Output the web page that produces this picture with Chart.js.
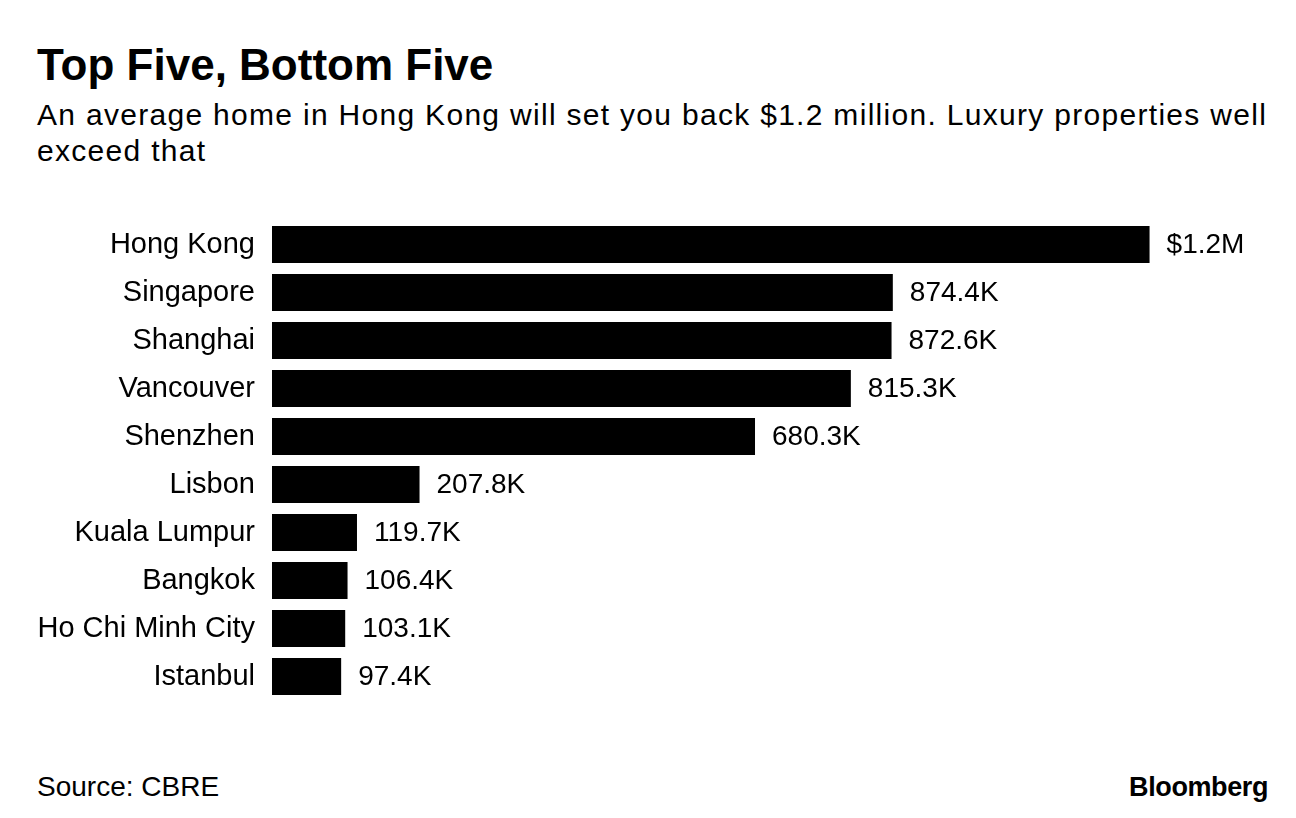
<!DOCTYPE html>
<html>
<head>
<meta charset="utf-8">
<script src="https://cdn.jsdelivr.net/npm/chart.js@4"></script>
<style>
  html, body { margin: 0; padding: 0; background: #fff; }
  body { width: 1296px; height: 818px; position: relative; overflow: hidden; font-family: "Liberation Sans", Arial, sans-serif; color: #000; }
  .title { position: absolute; left: 37px; top: 43px; font-size: 44px; line-height: 44px; font-weight: bold; letter-spacing: 0px; white-space: nowrap; }
  .sub { position: absolute; left: 37px; top: 97px; font-size: 30px; line-height: 36px; letter-spacing: 1.3px; white-space: nowrap; }
  .source { position: absolute; left: 37px; top: 773px; font-size: 28px; line-height: 28px; white-space: nowrap; }
  .brand { position: absolute; right: 28px; top: 774px; font-size: 27px; line-height: 27px; font-weight: bold; letter-spacing: -0.4px; white-space: nowrap; }
  #wrap { position: absolute; left: 0; top: 200px; width: 1296px; height: 520px; }
</style>
</head>
<body>
<div class="title">Top Five, Bottom Five</div>
<div class="sub">An average home in Hong Kong will set you back $1.2 million. Luxury properties well<br>exceed that</div>
<div id="wrap"><canvas id="bars"></canvas></div>
<div class="source">Source: CBRE</div>
<div class="brand">Bloomberg</div>
<script>
// average home price, thousands of US$
const cities = ['Hong Kong', 'Singapore', 'Shanghai', 'Vancouver', 'Shenzhen', 'Lisbon', 'Kuala Lumpur', 'Bangkok', 'Ho Chi Minh City', 'Istanbul'];
const prices = [1236, 874.4, 872.6, 815.3, 680.3, 207.8, 119.7, 106.4, 103.1, 97.4];
const priceLabels = ['$1.2M', '874.4K', '872.6K', '815.3K', '680.3K', '207.8K', '119.7K', '106.4K', '103.1K', '97.4K'];

const font = '"Liberation Sans", Arial, sans-serif';

const valueLabels = {
  id: 'valueLabels',
  afterDatasetsDraw(chart) {
    const ctx = chart.ctx;
    const meta = chart.getDatasetMeta(0);
    ctx.save();
    ctx.font = '28px ' + font;
    ctx.fillStyle = '#000';
    ctx.textAlign = 'left';
    ctx.textBaseline = 'middle';
    meta.data.forEach((bar, i) => {
      ctx.fillText(priceLabels[i], bar.x + 17, bar.y + 1);
    });
    ctx.restore();
  }
};

new Chart(document.getElementById('bars'), {
  type: 'bar',
  data: {
    labels: cities,
    datasets: [{
      data: prices,
      backgroundColor: '#000',
      borderWidth: 0,
      categoryPercentage: 1,
      barPercentage: 0.77
    }]
  },
  options: {
    indexAxis: 'y',
    responsive: true,
    maintainAspectRatio: false,
    animation: false,
    layout: { padding: { top: 20.5, bottom: 19.5, right: 30, left: 0 } },
    plugins: { legend: { display: false }, tooltip: { enabled: false } },
    scales: {
      x: { display: false, min: 0, max: 1400 },
      y: {
        grid: { display: false, drawTicks: false },
        border: { display: false },
        ticks: { color: '#000', font: { family: font, size: 29 }, padding: 17 },
        afterFit(scale) {
          scale.width = 272;
          scale.paddingTop = 0;
          scale.paddingBottom = 0;
        }
      }
    }
  },
  plugins: [valueLabels]
});
</script>
</body>
</html>
